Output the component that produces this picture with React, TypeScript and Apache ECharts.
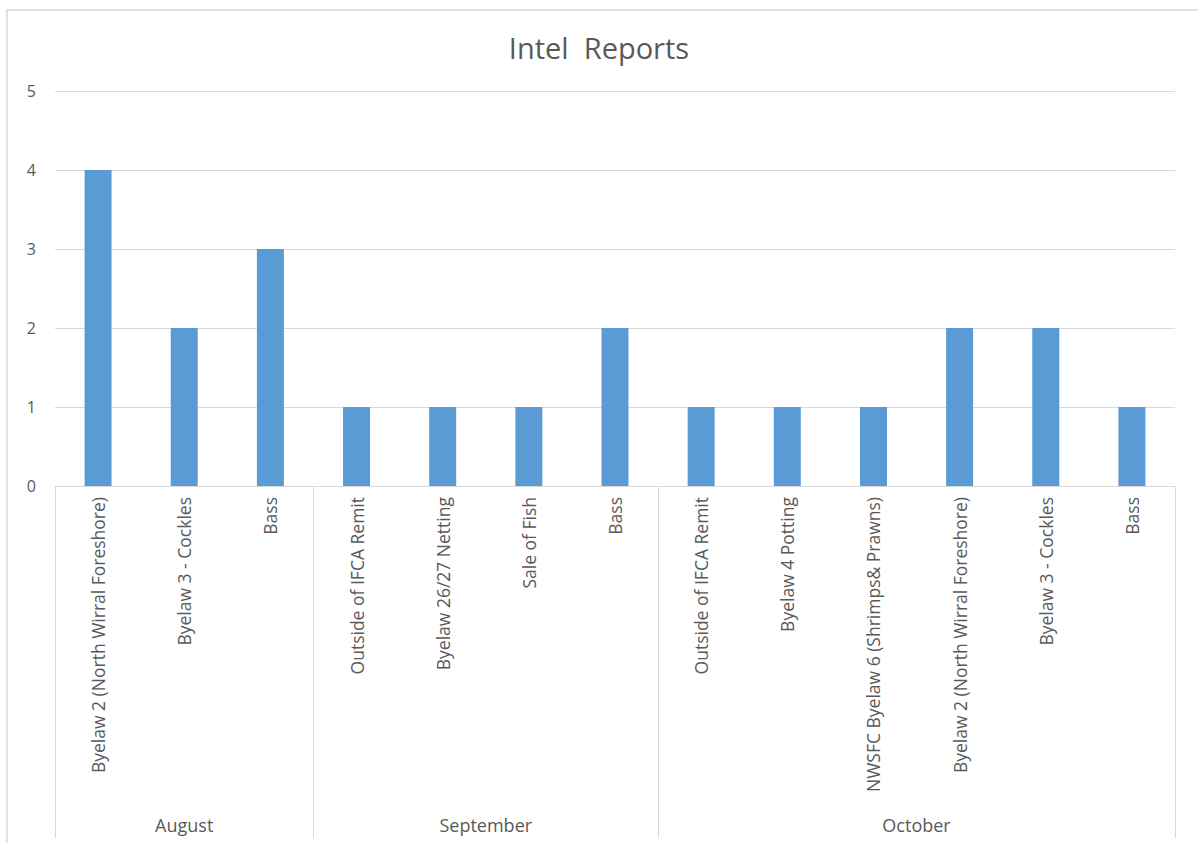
import React, { useEffect, useRef } from "react";
import * as echarts from "echarts";

const categories = [
  "Byelaw 2 (North Wirral Foreshore)",
  "Byelaw 3 - Cockles",
  "Bass",
  "Outside of IFCA Remit",
  "Byelaw 26/27 Netting",
  "Sale of Fish",
  "Bass",
  "Outside of IFCA Remit",
  "Byelaw 4 Potting",
  "NWSFC Byelaw 6 (Shrimps& Prawns)",
  "Byelaw 2 (North Wirral Foreshore)",
  "Byelaw 3 - Cockles",
  "Bass",
];
const values = [4, 2, 3, 1, 1, 1, 2, 1, 1, 1, 2, 2, 1];
const months = ["August", "September", "October"];
const monthCounts = [3, 4, 6];
const yTicks = [0, 1, 2, 3, 4, 5];

const FONT = "'Open Sans', sans-serif";
const TEXT = "#595959";
const LINE = "#d9d9d9";

export default function App() {
  const ref = useRef<HTMLDivElement>(null);
  useEffect(() => {
    const chart = echarts.init(ref.current!, null, { renderer: "svg" });
    chart.setOption({
      animation: false,
      backgroundColor: "#ffffff",
      title: {
        text: "Intel  Reports",
        left: "center",
        top: 28,
        textStyle: { color: TEXT, fontSize: 29, fontWeight: "normal", fontFamily: FONT },
      },
      grid: { left: 55, right: 23, top: 91, bottom: 357, containLabel: false },
      xAxis: {
        type: "category",
        data: categories.map((c, i) => i),
        axisLine: { lineStyle: { color: LINE, width: 1 } },
        axisTick: { show: false },
        axisLabel: {
          rotate: 90,
          margin: 11,
          color: TEXT,
          fontSize: 17.5,
          fontFamily: FONT,
          interval: 0,
          formatter: (v: string) => categories[Number(v)],
        },
      },
      yAxis: {
        type: "value",
        min: yTicks[0],
        max: yTicks[yTicks.length - 1],
        interval: 1,
        axisLine: { show: false },
        axisTick: { show: false },
        splitLine: { lineStyle: { color: LINE, width: 1 } },
        axisLabel: { color: TEXT, fontSize: 16, fontFamily: FONT, margin: 19 },
      },
      series: [
        {
          type: "bar",
          data: values,
          barWidth: 27,
          itemStyle: { color: "#5b9bd5" },
        },
      ],
    });

    const x0 = chart.convertToPixel({ xAxisIndex: 0 }, 0) as number;
    const x1 = chart.convertToPixel({ xAxisIndex: 0 }, 1) as number;
    const w = x1 - x0;
    const left = x0 - w / 2;
    const yAxis = chart.convertToPixel({ yAxisIndex: 0 }, 0) as number;
    const bottomY = 838;
    const graphics: any[] = [
      {
        type: "rect",
        shape: { x: 7, y: 10, width: 1300, height: 1000 },
        style: { fill: "none", stroke: LINE, lineWidth: 1.5 },
        silent: true,
      },
    ];
    let start = 0;
    const bounds = [0];
    monthCounts.forEach((n) => {
      start += n;
      bounds.push(start);
    });
    bounds.forEach((b) => {
      const x = Math.round(left + b * w) + 0.5;
      graphics.push({
        type: "line",
        shape: { x1: x, y1: yAxis, x2: x, y2: bottomY },
        style: { stroke: LINE, lineWidth: 1 },
        silent: true,
      });
    });
    months.forEach((m, i) => {
      const cx = left + ((bounds[i] + bounds[i + 1]) / 2) * w;
      graphics.push({
        type: "text",
        x: cx,
        y: 825,
        style: {
          text: m,
          fill: TEXT,
          font: `18px ${FONT}`,
          align: "center",
          verticalAlign: "middle",
        },
        silent: true,
      });
    });
    chart.setOption({ graphic: graphics });
    return () => chart.dispose();
  }, []);
  return (
    <div
      ref={ref}
      style={{ position: "fixed", left: 0, top: 0, width: 1198, height: 843 }}
    />
  );
}
